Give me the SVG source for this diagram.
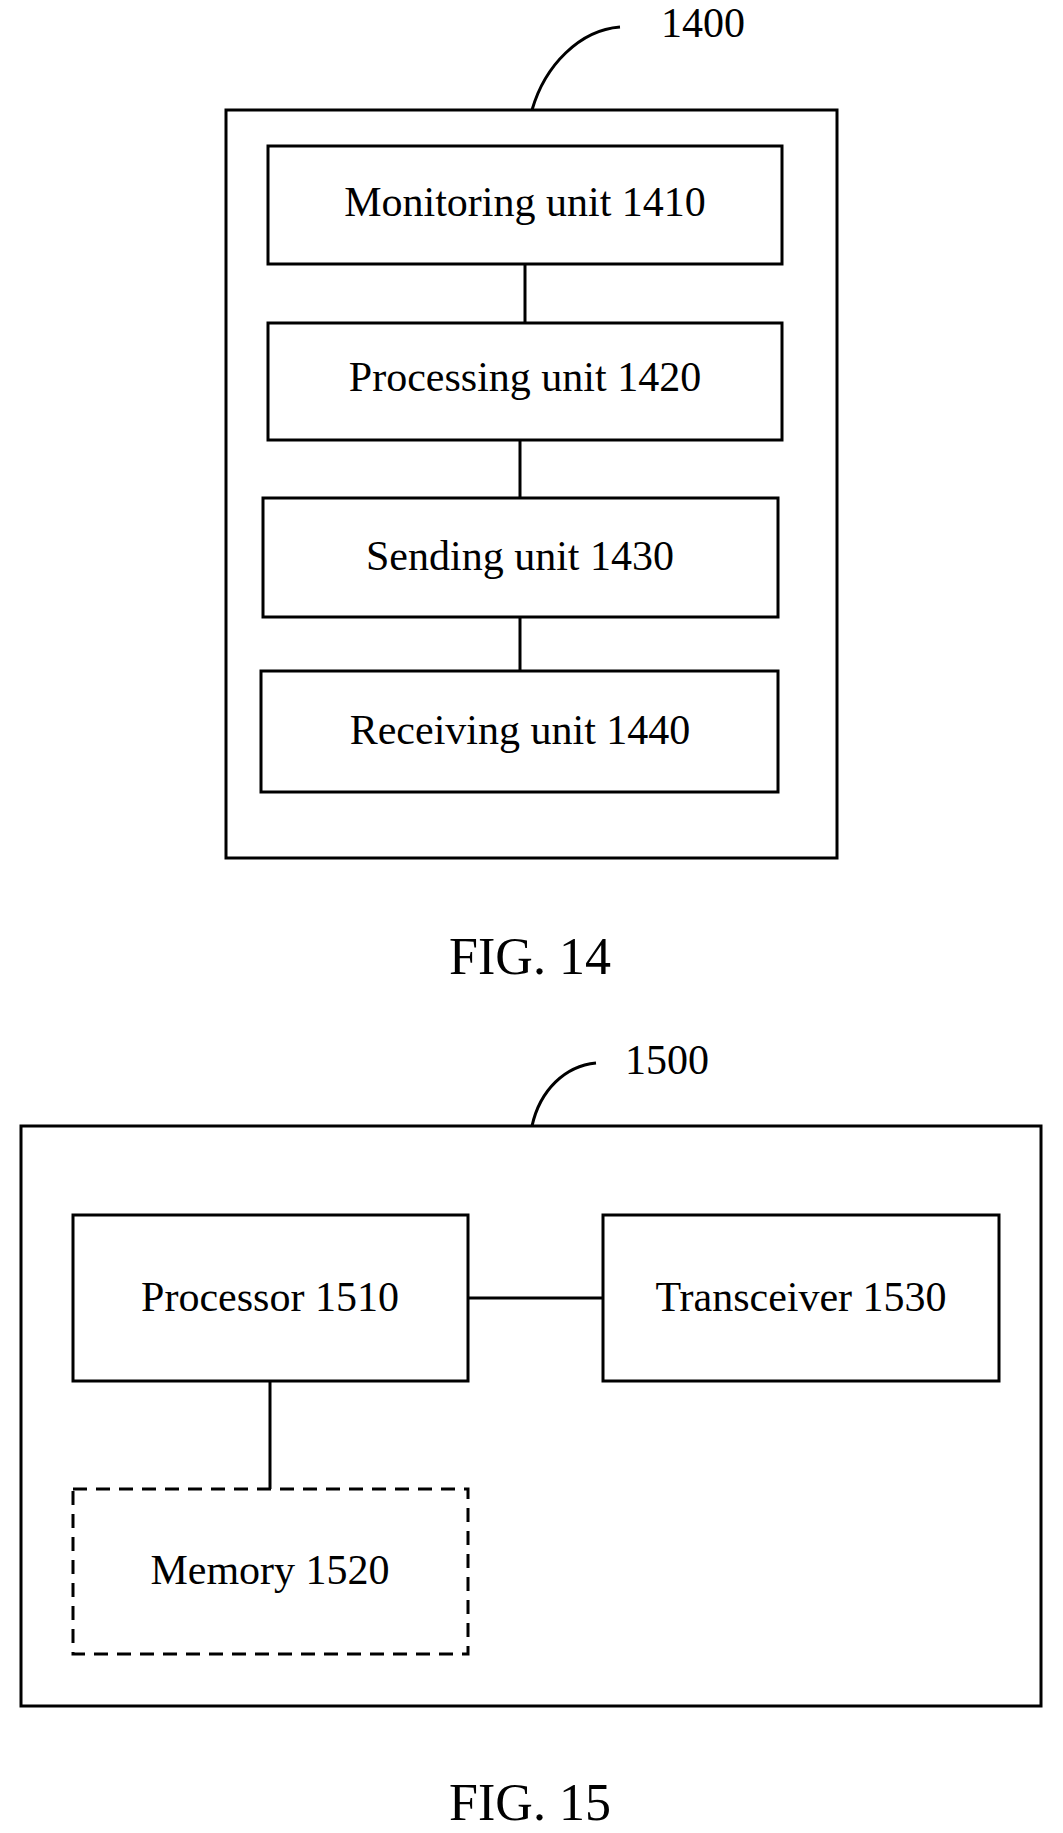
<svg xmlns="http://www.w3.org/2000/svg" width="1063" height="1833" viewBox="0 0 1063 1833">
<style>
rect{fill:#fff;stroke:#000;stroke-width:3}
.d{stroke-dasharray:14,9}
text{font-family:"Liberation Serif",serif;font-size:42px;text-anchor:middle;fill:#000}
.f{font-size:52px}
line,path{stroke:#000;stroke-width:3;fill:none}
</style>
<rect x="0" y="0" width="1063" height="1833" style="stroke:none"/>
<g id="n1400"><rect x="226" y="110" width="611" height="748"/><text x="661" y="37" text-anchor="start" style="text-anchor:start">1400</text></g>
<g id="n1410"><rect x="268" y="146" width="514" height="118"/><text x="525" y="216">Monitoring unit 1410</text></g>
<g id="n1420"><rect x="268" y="323" width="514" height="117"/><text x="525" y="391">Processing unit 1420</text></g>
<g id="n1430"><rect x="263" y="498" width="515" height="119"/><text x="520" y="570">Sending unit 1430</text></g>
<g id="n1440"><rect x="261" y="671" width="517" height="121"/><text x="520" y="744">Receiving unit 1440</text></g>
<text class="f" x="530" y="974">FIG. 14</text>
<g id="n1500"><rect x="21" y="1126" width="1020" height="580"/><text x="667" y="1074">1500</text></g>
<g id="n1510"><rect x="73" y="1215" width="395" height="166"/><text x="270" y="1311">Processor 1510</text></g>
<g id="n1530"><rect x="603" y="1215" width="396" height="166"/><text x="801" y="1311">Transceiver 1530</text></g>
<g id="n1520"><rect class="d" x="73" y="1489" width="395" height="165"/><text x="270" y="1584">Memory 1520</text></g>
<text class="f" x="530" y="1820">FIG. 15</text>
<g id="connectors">
<path d="M532 110 C545 65 580 30 620 27"/>
<path d="M532 1126 C540 1090 565 1066 596 1063"/>
<line x1="525" y1="264" x2="525" y2="323"/>
<line x1="520" y1="440" x2="520" y2="498"/>
<line x1="520" y1="617" x2="520" y2="671"/>
<line x1="468" y1="1298" x2="603" y2="1298"/>
<line x1="270" y1="1381" x2="270" y2="1489"/>
</g>
</svg>
